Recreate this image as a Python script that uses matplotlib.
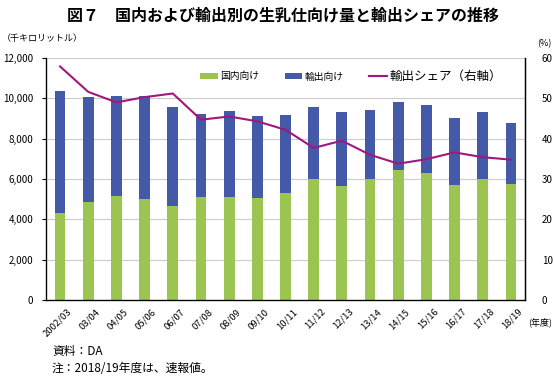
import numpy as np
import matplotlib
matplotlib.use('Agg')
import matplotlib.pyplot as plt
import matplotlib.transforms as mtransforms
from matplotlib.ticker import FuncFormatter

plt.rcParams['font.family'] = ['Noto Sans CJK JP', 'DejaVu Sans']

# Data
years = ['2002/03', '03/04', '04/05', '05/06', '06/07', '07/08', '08/09', '09/10',
         '10/11', '11/12', '12/13', '13/14', '14/15', '15/16', '16/17', '17/18', '18/19']
domestic = [4330, 4880, 5180, 5000, 4650, 5100, 5100, 5050,
            5290, 5980, 5660, 6020, 6470, 6320, 5690, 5990, 5740]
total = [10340, 10090, 10140, 10110, 9590, 9240, 9390, 9110,
         9190, 9590, 9340, 9430, 9830, 9690, 9030, 9340, 8800]
export = [t - d for t, d in zip(total, domestic)]
share = [57.9, 51.6, 49.0, 50.3, 51.2, 44.7, 45.5, 44.3,
         42.2, 37.7, 39.5, 36.0, 33.8, 34.9, 36.6, 35.4, 34.8]

green = '#9BC550'
blue = '#4559A9'
magenta = '#A0177D'

fig = plt.figure(figsize=(5.54, 3.77), dpi=100)
ax = fig.add_axes([46 / 554, 1 - 300 / 377, 479 / 554, 242 / 377])
x = np.arange(len(years))

ax.bar(x, domestic, width=0.38, color=green, label='国内向け', zorder=2)
ax.bar(x, export, width=0.38, bottom=domestic, color=blue, label='輸出向け', zorder=2)
ax.set_xlim(-0.5, len(years) - 0.5)
ax.set_ylim(0, 12000)
ax.set_yticks(range(0, 12001, 2000))
ax.yaxis.set_major_formatter(FuncFormatter(lambda v, p: f'{int(v):,}'))
ax.grid(axis='y', color='#cccccc', linewidth=0.8, zorder=0)
ax.set_xticks(x)
ax.set_xticklabels(years, rotation=45, ha='right', va='top', rotation_mode='anchor', fontsize=6.8)
ax.tick_params(axis='x', length=0, pad=5)
# shift the rotated labels a little to the right like the original
offset = mtransforms.ScaledTranslation(7 / 100, 0, fig.dpi_scale_trans)
for lab in ax.get_xticklabels():
    lab.set_transform(lab.get_transform() + offset)
ax.tick_params(axis='y', length=3, labelsize=7, pad=6)
ax.spines['top'].set_visible(False)
for s in ['left', 'bottom', 'right']:
    ax.spines[s].set_linewidth(0.9)

ax2 = ax.twinx()
ax2.plot(x, share, color=magenta, linewidth=1.5, label='輸出シェア（右軸）', zorder=3)
ax2.set_ylim(0, 60)
ax2.set_yticks(range(0, 61, 10))
ax2.tick_params(axis='y', length=0, labelsize=7, pad=12)
ax2.spines['top'].set_visible(False)
ax2.spines['right'].set_linewidth(0.9)

h1, l1 = ax.get_legend_handles_labels()
h2, l2 = ax2.get_legend_handles_labels()
leg = ax2.legend(h1 + h2, l1 + l2, loc='center left', bbox_to_anchor=(200 / 554, 1 - 76 / 377),
                 bbox_transform=fig.transFigure, borderpad=0, borderaxespad=0,
                 ncol=3, frameon=False, fontsize=7, handlelength=1.8,
                 handleheight=0.55, columnspacing=2.6, handletextpad=0.3)
leg.get_texts()[2].set_fontsize(9)

fig.text(283 / 554, 1 - 15 / 377, '図７　国内および輸出別の生乳仕向け量と輸出シェアの推移',
         ha='center', va='center', fontsize=11.5, fontweight='bold')
fig.text(2 / 554, 1 - 38 / 377, '（千キロリットル）', ha='left', va='center', fontsize=6.5)
fig.text(537 / 554, 1 - 44 / 377, '(%)', ha='left', va='center', fontsize=6.5)
fig.text(528 / 554, 1 - 322 / 377, '(年度)', ha='left', va='center', fontsize=6.5)
fig.text(52 / 554, 1 - 352 / 377, '資料：DA', ha='left', va='center', fontsize=8.5)
fig.text(52 / 554, 1 - 368 / 377, '注：2018/19年度は、速報値。', ha='left', va='center', fontsize=8.5)

plt.savefig('out.png', dpi=100)
plt.close()
